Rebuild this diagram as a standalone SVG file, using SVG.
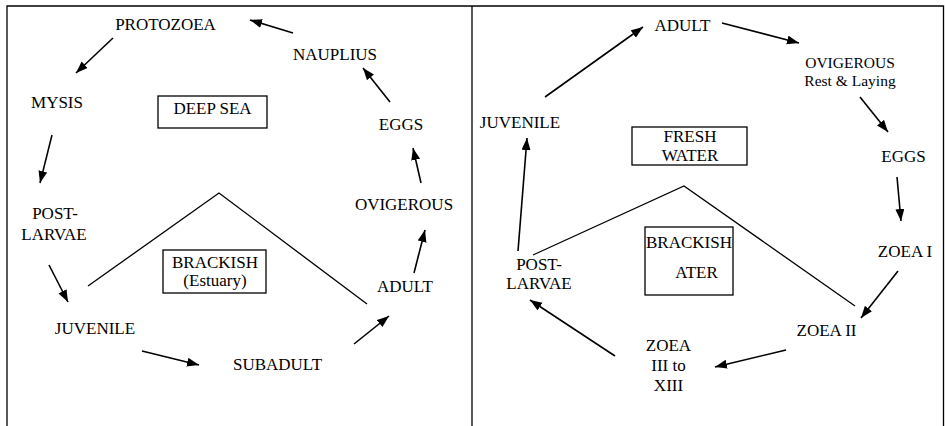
<svg xmlns="http://www.w3.org/2000/svg" width="945" height="426" viewBox="0 0 945 426">
<defs>
<style>
text{font-family:"Liberation Serif","Times New Roman",serif;font-size:17px;fill:#000;text-anchor:middle}
.sm{font-size:15.5px}
.frame{fill:none;stroke:#000;stroke-width:1.3}
.box{fill:#fff;stroke:#000;stroke-width:1.3}
.arr{stroke:#000;stroke-width:1.6;fill:none;marker-end:url(#ah)}
.hab{stroke:#000;stroke-width:1.3;fill:none}
</style>
<marker id="ah" markerUnits="userSpaceOnUse" markerWidth="13" markerHeight="10" refX="12" refY="4.5" orient="auto">
<path d="M0,0 L12,4.5 L0,9 z" fill="#000"/>
</marker>
</defs>
<rect width="945" height="426" fill="#fff"/>
<g id="frame">
<path class="frame" d="M7,426 V6 H943.5 V426 M472,6 V426"/>
</g>
<g id="connectors">
<line class="arr" x1="293" y1="33" x2="250" y2="20"/>
<line class="arr" x1="113" y1="38" x2="76" y2="73"/>
<line class="arr" x1="52" y1="135" x2="40" y2="183"/>
<line class="arr" x1="49" y1="265" x2="68" y2="302"/>
<line class="arr" x1="142" y1="351" x2="199" y2="365"/>
<line class="arr" x1="354" y1="344" x2="389" y2="316"/>
<line class="arr" x1="414" y1="273" x2="425" y2="230"/>
<line class="arr" x1="421" y1="183" x2="413" y2="148"/>
<line class="arr" x1="390" y1="102" x2="363" y2="68"/>
<polyline class="hab" points="88,286 219,193 367,304"/>
<line class="arr" x1="545" y1="97" x2="643" y2="27"/>
<line class="arr" x1="722" y1="23" x2="799" y2="43"/>
<line class="arr" x1="860" y1="97" x2="888" y2="132"/>
<line class="arr" x1="897" y1="177" x2="901" y2="221"/>
<line class="arr" x1="898" y1="271" x2="861" y2="318"/>
<line class="arr" x1="786" y1="350" x2="715" y2="367"/>
<line class="arr" x1="615" y1="356" x2="530" y2="300"/>
<line class="arr" x1="518" y1="251" x2="527" y2="138"/>
<polyline class="hab" points="533,255 684,186 855,306"/>
</g>
<g id="protozoea"><text x="165.5" y="30">PROTOZOEA</text></g>
<g id="nauplius"><text x="335" y="60">NAUPLIUS</text></g>
<g id="mysis"><text x="57" y="108">MYSIS</text></g>
<g id="deep-sea"><rect class="box" x="158" y="96" width="109" height="32"/><text x="212.5" y="114">DEEP SEA</text></g>
<g id="eggs-l"><text x="401" y="130">EGGS</text></g>
<g id="ovigerous-l"><text x="404" y="210">OVIGEROUS</text></g>
<g id="postlarvae-l"><text x="55" y="219">POST-</text><text x="54" y="240">LARVAE</text></g>
<g id="brackish-l"><rect class="box" x="163" y="250" width="103" height="43"/><text x="215" y="268">BRACKISH</text><text x="215" y="286">(Estuary)</text></g>
<g id="adult-l"><text x="405" y="292">ADULT</text></g>
<g id="juvenile-l"><text x="95" y="334">JUVENILE</text></g>
<g id="subadult"><text x="277.5" y="370">SUBADULT</text></g>
<g id="adult-r"><text x="682.5" y="31">ADULT</text></g>
<g id="ovigerous-r"><text class="sm" x="850" y="68">OVIGEROUS</text><text class="sm" x="850" y="86">Rest &amp; Laying</text></g>
<g id="juvenile-r"><text x="520" y="128">JUVENILE</text></g>
<g id="fresh-water"><rect class="box" x="632" y="127" width="115" height="38"/><text x="690" y="142">FRESH</text><text x="690" y="161">WATER</text></g>
<g id="eggs-r"><text x="903.5" y="162">EGGS</text></g>
<g id="postlarvae-r"><text x="539" y="270">POST-</text><text x="539" y="289">LARVAE</text></g>
<g id="brackish-r"><rect class="box" x="645" y="227" width="88" height="68"/><text x="689" y="248">BRACKISH</text><text x="696.5" y="278">ATER</text></g>
<g id="zoea1"><text x="905" y="257">ZOEA I</text></g>
<g id="zoea2"><text x="826.5" y="336">ZOEA II</text></g>
<g id="zoea3"><text x="668.5" y="351">ZOEA</text><text x="668.5" y="371">III to</text><text x="668.5" y="391">XIII</text></g>
</svg>
